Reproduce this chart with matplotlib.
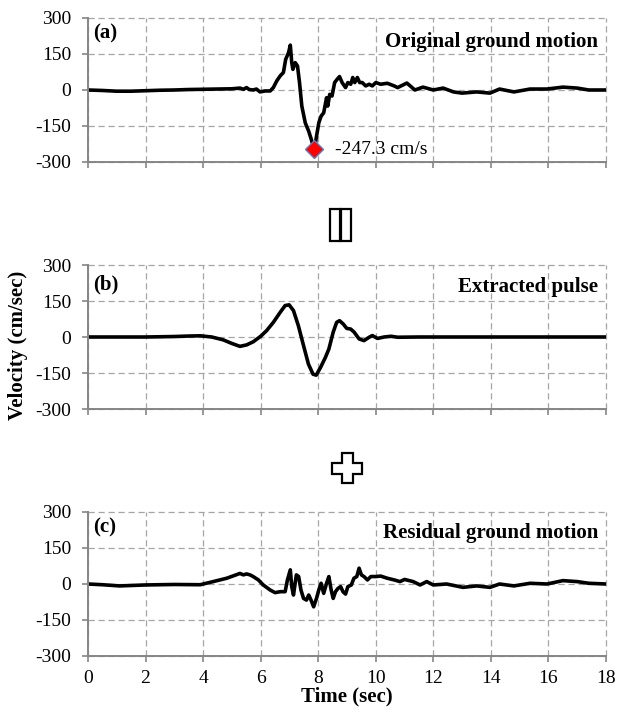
import numpy as np
import matplotlib
matplotlib.use("Agg")
import matplotlib.pyplot as plt
from matplotlib.patches import Polygon, Rectangle

plt.rcParams['font.family'] = ['Liberation Serif', 'DejaVu Serif']
plt.rcParams['axes.unicode_minus'] = False

# (a) original ground motion
t_a = [0.0, 0.5, 1.0, 1.5, 2.0, 2.5, 3.0, 3.5, 4.0, 4.5,
       5.0, 5.28, 5.4, 5.51, 5.6, 5.74, 5.85, 5.98, 6.15, 6.33,
       6.44, 6.56, 6.68, 6.79, 6.87, 6.97, 7.03, 7.08, 7.12, 7.2,
       7.28, 7.35, 7.43, 7.55, 7.67, 7.76, 7.84, 7.87, 7.94, 8.02,
       8.1, 8.19, 8.29, 8.33, 8.4, 8.48, 8.57, 8.66, 8.74, 8.83,
       8.95, 9.03, 9.13, 9.2, 9.27, 9.36, 9.44, 9.53, 9.65, 9.77,
       9.88, 10.0, 10.17, 10.4, 10.64, 10.76, 11.08, 11.36, 11.64, 12.0,
       12.34, 12.7, 13.0, 13.5, 13.97, 14.3, 14.8, 15.36, 15.95, 16.5,
       17.0, 17.4, 18.0]
v_a = [0, -2, -5, -5, -3, -1, 0, 2, 3, 4,
       5, 8, 3, 10, 2, 0, 4, -8, -4, -4,
       10, 38, 59, 73, 128, 156, 187, 114, 86, 114,
       100, 31, -67, -137, -172, -206, -241, -247.3, -193, -137,
       -109, -95, -32, -67, -18, -25, 31, 45, 56, 31,
       10, 31, 24, 52, 31, 52, 31, 31, 17, 24,
       17, 31, 24, 28, 17, 10, 29, 0, 12, 0,
       8, -8, -13, -8, -13, 4, -8, 4, 4, 12,
       8, 0, 0]

# (b) extracted pulse
t_b = [0.0, 1.0, 2.0, 2.5, 3.0, 3.5, 3.9, 4.3, 4.7, 5.0,
       5.28, 5.51, 5.74, 6.0, 6.21, 6.44, 6.68, 6.85, 6.99, 7.14,
       7.31, 7.49, 7.66, 7.82, 7.93, 8.08, 8.25, 8.37, 8.52, 8.64,
       8.74, 8.87, 8.99, 9.13, 9.25, 9.42, 9.59, 9.77, 9.88, 10.06,
       10.29, 10.53, 10.76, 11.5, 18.0]
v_b = [0, 0, 0, 1, 2, 4, 5, 0, -12, -27,
       -39, -33, -20, 3, 27, 61, 103, 131, 134, 110,
       47, -36, -113, -155, -159, -127, -85, -50, 20, 61,
       68, 54, 36, 33, 20, -8, -15, -1, 6, -6,
       0, 3, -1, 0, 0]

# (c) residual ground motion
t_c = [0.0, 0.5, 1.1, 2.0, 3.0, 3.9, 4.35, 4.82, 5.28, 5.4,
       5.51, 5.63, 5.74, 5.92, 6.09, 6.33, 6.5, 6.68, 6.85, 6.93,
       7.03, 7.08, 7.14, 7.24, 7.32, 7.4, 7.49, 7.59, 7.67, 7.75,
       7.84, 7.94, 8.02, 8.1, 8.19, 8.29, 8.37, 8.45, 8.52, 8.6,
       8.69, 8.78, 8.86, 8.95, 9.03, 9.15, 9.24, 9.34, 9.42, 9.5,
       9.59, 9.71, 9.83, 10.0, 10.17, 10.4, 10.64, 10.84, 11.0, 11.3,
       11.54, 11.77, 12.0, 12.46, 13.03, 13.5, 13.97, 14.3, 14.8, 15.36,
       15.95, 16.5, 17.0, 17.4, 18.0]
v_c = [0, -3, -8, -4, -2, -3, 10, 24, 44, 38,
       42, 38, 31, 17, -4, -25, -36, -32, -32, 17,
       59, -11, -46, 38, 31, -25, -60, -67, -46, -67,
       -95, -60, -25, 3, -39, 3, 31, -25, -60, -32,
       -18, -11, -32, -42, -11, -4, 24, 31, 66, 38,
       31, 17, 31, 31, 33, 24, 17, 10, 19, 10,
       -4, 10, -4, 0, -14, -8, -14, 0, -8, 3,
       0, 14, 10, 3, 0]

panel_tags = ["(a)", "(b)", "(c)"]
panel_titles = ["Original ground motion", "Extracted pulse", "Residual ground motion"]
x_ticks = list(range(0, 19, 2))
y_ticks = [-300, -150, 0, 150, 300]

W, H = 617, 716
fig = plt.figure(figsize=(W / 100, H / 100), dpi=100)

def px_box(left, top, right, bottom):
    return [left / W, 1 - bottom / H, (right - left) / W, (bottom - top) / H]

boxes = [px_box(88, 18, 606, 162), px_box(88, 265, 606, 409), px_box(88, 512, 606, 656)]
tag_off = [15, 19, 15]
title_off = [24, 22, 21]
series = [(t_a, v_a), (t_b, v_b), (t_c, v_c)]
gray = "#868686"

for i, (box, (t, v)) in enumerate(zip(boxes, series)):
    ax = fig.add_axes(box)
    ax.plot(t, v, color="black", lw=2.6, solid_joinstyle="round")
    ax.set_xlim(0, 18)
    ax.set_ylim(-300, 300)
    ax.set_xticks(x_ticks)
    ax.set_yticks(y_ticks)
    ax.grid(True, color="#a6a6a6", lw=0.9, linestyle=(0, (5, 3)))
    for gl in ax.get_xgridlines() + ax.get_ygridlines():
        gl.set_clip_on(False)
    ax.set_axisbelow(True)
    for s in ["top", "right"]:
        ax.spines[s].set_visible(False)
    for s in ["left", "bottom"]:
        ax.spines[s].set_color(gray)
        ax.spines[s].set_linewidth(1.4)
    ax.tick_params(axis="both", direction="out", color=gray, length=4, width=1.2, labelsize=14)
    ax.tick_params(axis="y", pad=8)
    ax.tick_params(axis="x", pad=6)
    if i < 2:
        ax.tick_params(axis="x", labelbottom=False)
    ax.text(5 / 518, 1 - tag_off[i] / 144, panel_tags[i], transform=ax.transAxes,
            fontsize=15, fontweight="bold", ha="left", va="center")
    ax.text(1 - 8 / 518, 1 - title_off[i] / 144, panel_titles[i], transform=ax.transAxes,
            fontsize=15, fontweight="bold", ha="right", va="center")
    if i == 0:
        k = int(np.argmin(v))
        ax.plot(t[k], v[k], marker="D", ms=9, mfc="red", mec="#5a7fbf", mew=1, clip_on=False, zorder=5)
        ax.text(t[k] + 0.7, v[k], "%.1f cm/s" % v[k], fontsize=14, ha="left", va="center")
    if i == 2:
        ax.set_xlabel("Time (sec)", fontsize=15, fontweight="bold", labelpad=0)

fig.text(18 / W, 1 - 345 / H, "Velocity (cm/sec)", rotation=90, fontsize=15,
         fontweight="bold", ha="center", va="center")

# equal sign (two tall outlined bars)
for x0 in (329.5, 341.0):
    fig.patches.append(Rectangle((x0 / W, 1 - 240.5 / H), 10 / W, 31 / H,
                                 transform=fig.transFigure, fc="white", ec="black", lw=1.6))

# plus sign outline
cx, cy, a, b = 347.0, 468.0, 5.5, 15.0
pts = [(cx - a, cy - b), (cx + a, cy - b), (cx + a, cy - a), (cx + b, cy - a),
       (cx + b, cy + a), (cx + a, cy + a), (cx + a, cy + b), (cx - a, cy + b),
       (cx - a, cy + a), (cx - b, cy + a), (cx - b, cy - a), (cx - a, cy - a)]
fig.patches.append(Polygon([(x / W, 1 - y / H) for x, y in pts], closed=True,
                           transform=fig.transFigure, fc="white", ec="black", lw=1.6))

fig.savefig("out.png", dpi=100)
